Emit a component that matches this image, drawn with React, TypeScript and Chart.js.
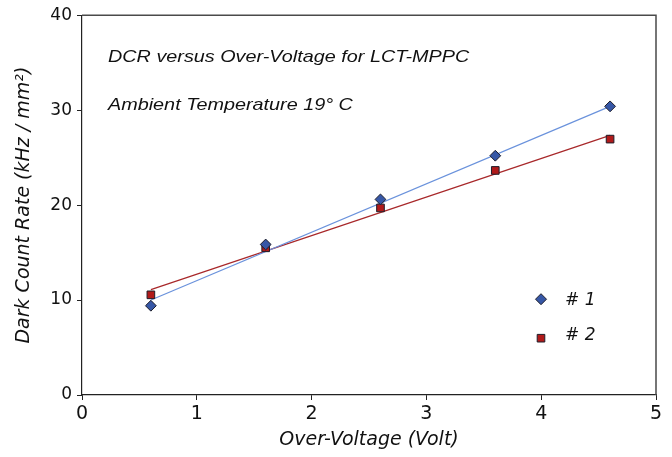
import React, { useEffect, useRef } from "react";
import { Chart, registerables } from "chart.js";

Chart.register(...registerables);

// ---- data ----
const overVoltage = [0.6, 1.6, 2.6, 3.6, 4.6];
const dcrSample1 = [9.4, 15.85, 20.6, 25.2, 30.4];
const dcrSample2 = [10.55, 15.5, 19.7, 23.65, 26.95];
const trendX = [0.6, 4.6];
const trendSample1 = [10.0, 30.4];
const trendSample2 = [11.1, 27.35];
const seriesLabels = ["# 1", "# 2"];
const noteLines = ["DCR versus Over-Voltage for LCT-MPPC", "Ambient Temperature 19° C"];
const xTitle = "Over-Voltage (Volt)";
const yTitle = "Dark Count Rate (kHz / mm²)";

const FONT = "'DejaVu Sans', 'Liberation Sans', Arial, sans-serif";
const NOTE_FONT = "'Liberation Sans', Arial, sans-serif";
const BLUE_FILL = "#3657a6";
const RED_FILL = "#b01a1a";
const MARK_BORDER = "#1e1e2a";
const BLUE_LINE = "#6a92dc";
const RED_LINE = "#a8282a";

function stretchedText(ctx: any, text: string, x: number, y: number, sx: number) {
  ctx.save();
  ctx.translate(x, y);
  ctx.scale(sx, 1);
  ctx.fillText(text, 0, 0);
  ctx.restore();
}

const decorPlugin = {
  id: "decor",
  afterDraw(chart: any) {
    const { ctx, chartArea } = chart;
    const { left, top, right, bottom } = chartArea;
    ctx.save();
    // top & right frame
    ctx.strokeStyle = "#4a4a4a";
    ctx.lineWidth = 1.5;
    ctx.beginPath();
    ctx.moveTo(left, top);
    ctx.lineTo(right, top);
    ctx.lineTo(right, bottom);
    ctx.stroke();

    // notes
    ctx.fillStyle = "#111";
    ctx.font = `italic 16.5px ${NOTE_FONT}`;
    ctx.textAlign = "left";
    ctx.textBaseline = "alphabetic";
    stretchedText(ctx, noteLines[0], left + 26, top + 47, 1.2);
    stretchedText(ctx, noteLines[1], left + 26, top + 95, 1.2);

    // legend
    const lx = right - 115;
    const ly1 = top + 284;
    const ly2 = top + 323;
    ctx.lineWidth = 1;
    ctx.strokeStyle = MARK_BORDER;
    ctx.fillStyle = BLUE_FILL;
    ctx.beginPath();
    ctx.moveTo(lx, ly1 - 5.5);
    ctx.lineTo(lx + 5.5, ly1);
    ctx.lineTo(lx, ly1 + 5.5);
    ctx.lineTo(lx - 5.5, ly1);
    ctx.closePath();
    ctx.fill();
    ctx.stroke();
    ctx.fillStyle = RED_FILL;
    ctx.beginPath();
    ctx.rect(lx - 3.8, ly2 - 3.8, 7.6, 7.6);
    ctx.fill();
    ctx.stroke();

    ctx.fillStyle = "#111";
    ctx.font = `italic 17px ${FONT}`;
    ctx.textBaseline = "middle";
    ctx.fillText(seriesLabels[0], lx + 24, ly1 + 1);
    ctx.fillText(seriesLabels[1], lx + 24, ly2 - 2.5);
    ctx.restore();
  },
};

export default function App() {
  const ref = useRef<HTMLCanvasElement | null>(null);

  useEffect(() => {
    if (!ref.current) return;
    const chart = new Chart(ref.current, {
      type: "scatter",
      data: {
        datasets: [
          {
            label: seriesLabels[0],
            data: overVoltage.map((x, i) => ({ x, y: dcrSample1[i] })),
            pointStyle: "rectRot",
            pointRadius: 5.4,
            backgroundColor: BLUE_FILL,
            borderColor: MARK_BORDER,
            borderWidth: 1,
            showLine: false,
            order: 0,
          },
          {
            label: seriesLabels[1],
            data: overVoltage.map((x, i) => ({ x, y: dcrSample2[i] })),
            pointStyle: "rect",
            pointRadius: 5.4,
            backgroundColor: RED_FILL,
            borderColor: MARK_BORDER,
            borderWidth: 1,
            showLine: false,
            order: 0,
          },
          {
            label: "trend 1",
            data: trendX.map((x, i) => ({ x, y: trendSample1[i] })),
            showLine: true,
            pointRadius: 0,
            borderColor: BLUE_LINE,
            borderWidth: 1.2,
            backgroundColor: BLUE_LINE,
            order: 1,
          },
          {
            label: "trend 2",
            data: trendX.map((x, i) => ({ x, y: trendSample2[i] })),
            showLine: true,
            pointRadius: 0,
            borderColor: RED_LINE,
            borderWidth: 1.2,
            backgroundColor: RED_LINE,
            order: 1,
          },
        ],
      },
      options: {
        responsive: false,
        animation: false,
        layout: { padding: { left: 0, top: 15, right: 16, bottom: 0 } },
        plugins: {
          legend: { display: false },
          tooltip: { enabled: false },
        },
        scales: {
          x: {
            type: "linear",
            min: 0,
            max: 5,
            ticks: {
              stepSize: 1,
              color: "#111",
              font: { family: FONT, size: 19 },
              padding: 3,
            },
            grid: {
              display: true,
              drawOnChartArea: false,
              drawTicks: true,
              tickLength: 5,
              color: "#222",
            },
            border: { display: true, color: "#222", width: 1.2 },
            title: {
              display: true,
              text: xTitle,
              color: "#111",
              font: { family: FONT, size: 19, style: "italic" },
              padding: { top: 0, bottom: 6 },
            },
            afterFit(scale: any) {
              scale.height = 62;
            },
          },
          y: {
            type: "linear",
            min: 0,
            max: 40,
            ticks: {
              stepSize: 10,
              color: "#111",
              font: { family: FONT, size: 17 },
              padding: 5,
            },
            grid: {
              display: true,
              drawOnChartArea: false,
              drawTicks: true,
              tickLength: 5,
              color: "#222",
            },
            border: { display: true, color: "#222", width: 1.2 },
            title: {
              display: true,
              text: yTitle,
              color: "#111",
              font: { family: FONT, size: 19, style: "italic" },
              padding: { top: 13, bottom: 0 },
            },
            afterFit(scale: any) {
              scale.width = 82;
            },
          },
        },
      },
      plugins: [decorPlugin],
    });
    return () => chart.destroy();
  }, []);

  return (
    <div style={{ position: "fixed", left: 0, top: 0, width: 672, height: 457, background: "#fff" }}>
      <canvas ref={ref} width={672} height={457} style={{ width: 672, height: 457, display: "block" }} />
    </div>
  );
}
